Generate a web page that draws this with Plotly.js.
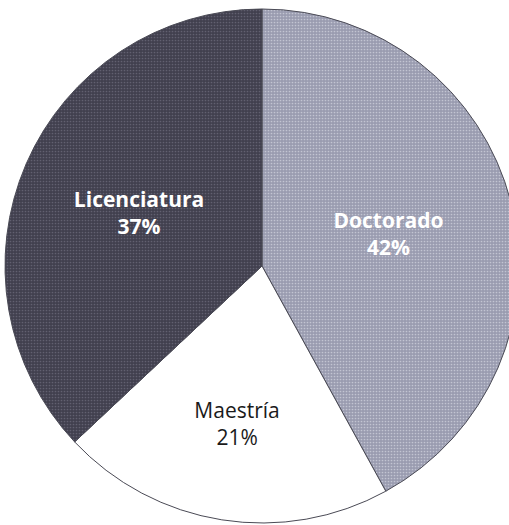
<!DOCTYPE html>
<html>
<head>
<meta charset="utf-8">
<script src="https://cdn.plot.ly/plotly-3.0.1.min.js"></script>
<style>
html,body{margin:0;padding:0;overflow:hidden;background:#fff;width:509px;height:525px;}
#chart{position:absolute;left:0;top:0;width:524px;height:530px;}
</style>
</head>
<body>
<div id="chart"></div>
<script>
const categories = ["Doctorado", "Maestría", "Licenciatura"];
const values = [42, 21, 37];
const sliceColors = ["#9a9cb0", "#ffffff", "#41404e"];
const speckleColors = ["#c2c4d2", "#ffffff", "#626070"];
const speckleShapes = [".", "", "."];
const textColors = ["#ffffff", "#1a1a1a", "#ffffff"];
const textWeights = ["bold", "normal", "bold"];

const trace = {
  type: "pie",
  labels: categories,
  values: values,
  sort: false,
  direction: "clockwise",
  rotation: 0,
  textinfo: "label+percent",
  textposition: "inside",
  insidetextorientation: "horizontal",
  hoverinfo: "none",
  showlegend: false,
  marker: {
    colors: sliceColors,
    line: {color: "#4a4a55", width: 1},
    pattern: {shape: speckleShapes, fgcolor: speckleColors, bgcolor: sliceColors, fillmode: "replace", size: 3, solidity: 0.25}
  },
  textfont: {family: "Open Sans, sans-serif", size: 21, color: textColors, weight: textWeights}
};

const layout = {
  width: 524,
  height: 530,
  margin: {l: 5, r: 5, t: 9, b: 7},
  paper_bgcolor: "#ffffff",
  plot_bgcolor: "#ffffff",
  showlegend: false
};

Plotly.newPlot("chart", [trace], layout, {staticPlot: true, displayModeBar: false});
</script>
</body>
</html>
